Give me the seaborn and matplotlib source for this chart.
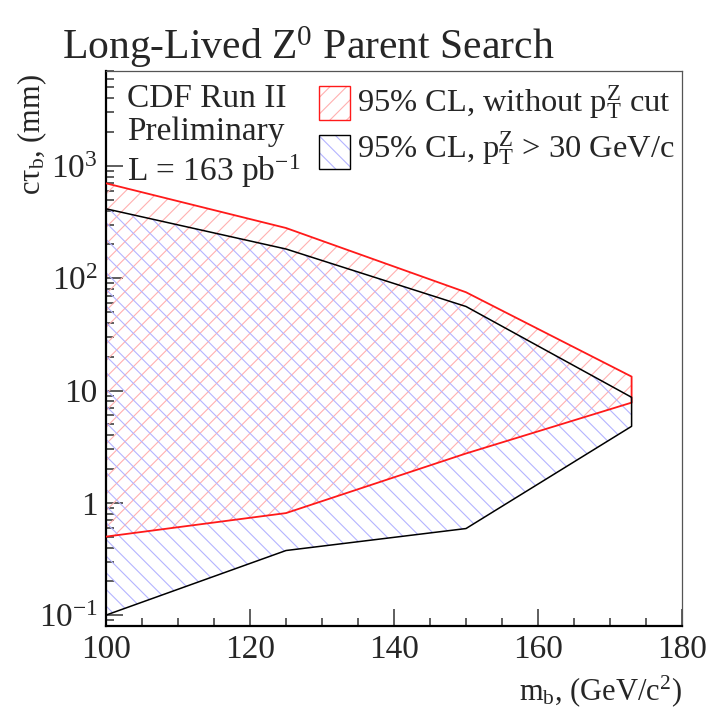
import matplotlib
matplotlib.use("Agg")
import matplotlib.pyplot as plt
from matplotlib.patches import Rectangle
from matplotlib.ticker import MultipleLocator, LogLocator, NullFormatter
import numpy as np
import pandas as pd
import seaborn as sns

# Excluded regions in the (m_b, c tau_b) plane, 95% CL
mass = [100, 125, 150, 173]
nocut_upper = [700, 280, 75, 13.3]
nocut_lower = [0.50, 0.81, 2.75, 7.8]
ptcut_upper = [415, 182, 56, 8.7]
ptcut_lower = [0.10, 0.376, 0.59, 4.8]

x_ticks = [100, 120, 140, 160, 180]
y_ticks = [0.1, 1, 10, 100, 1000]
y_tick_labels = ["10$^{-1}$", "1", "10", "10$^{2}$", "10$^{3}$"]

legend_labels = ["95% CL, without p$_{T}^{Z}$ cut",
                 "95% CL, p$_{T}^{Z}$ > 30 GeV/c"]

sns.set_style("ticks")
plt.rcParams["font.family"] = ["Liberation Serif", "DejaVu Serif"]
plt.rcParams["mathtext.fontset"] = "custom"
plt.rcParams["mathtext.rm"] = "Liberation Serif"
plt.rcParams["mathtext.it"] = "Liberation Serif"
plt.rcParams["mathtext.default"] = "regular"
plt.rcParams["hatch.linewidth"] = 0.8

W, H = 712, 719
fig = plt.figure(figsize=(W / 100, H / 100), dpi=100)
ax = fig.add_axes([106 / W, (H - 626) / H, 576 / W, 555 / H])
ax.set_yscale("log")


def band(upper, lower):
    xs = list(mass) + list(mass[::-1])
    ys = list(upper) + list(lower[::-1])
    return pd.DataFrame({"m": xs, "ctau": ys})


nocut = band(nocut_upper, nocut_lower)
ptcut = band(ptcut_upper, ptcut_lower)

# hatched fills
ax.fill(nocut["m"], nocut["ctau"], facecolor="none", edgecolor="#ffb0b0",
        hatch="//", lw=0, zorder=1)
ax.fill(ptcut["m"], ptcut["ctau"], facecolor="none", edgecolor="#b4b4ff",
        hatch="\\\\", lw=0, zorder=1)

# contour lines
sns.lineplot(data=nocut, x="m", y="ctau", sort=False, estimator=None,
             color="#ff1a1a", lw=1.3, ax=ax, zorder=3)
sns.lineplot(data=ptcut, x="m", y="ctau", sort=False, estimator=None,
             color="black", lw=1.1, ax=ax, zorder=3)

ax.set_xlim(100, 180)
ax.set_ylim(0.08, 7000)
ax.set_xlabel("")
ax.set_ylabel("")

ax.set_xticks(x_ticks)
ax.set_xticklabels([str(v) for v in x_ticks])
ax.xaxis.set_minor_locator(MultipleLocator(5))
ax.set_yticks(y_ticks)
ax.set_yticklabels(y_tick_labels)
ax.yaxis.set_minor_locator(LogLocator(base=10, subs=np.arange(2, 10)))
ax.yaxis.set_minor_formatter(NullFormatter())

ax.tick_params(which="both", direction="in", top=False, right=False,
               color="#333333", width=1.1, labelsize=24)
ax.tick_params(which="major", length=12, pad=6)
ax.tick_params(which="minor", length=6)

for s in ["left", "bottom"]:
    ax.spines[s].set_linewidth(1.6)
    ax.spines[s].set_color("black")
for s in ["top", "right"]:
    ax.spines[s].set_linewidth(0.9)
    ax.spines[s].set_color("#555555")


def fx(px):
    return px / W


def fy(py):
    return 1 - py / H


fig.text(fx(62), fy(59), "Long-Lived Z$^{0}$ Parent Search", fontsize=30,
         va="baseline", ha="left")
fig.text(fx(32), fy(74), "cτ$_{b}$, (mm)", fontsize=22, rotation=90,
         ha="center", va="top")
fig.text(fx(682), fy(700), "m$_{b}$, (GeV/c$^{2}$)", fontsize=22,
         ha="right", va="baseline")

fig.text(fx(127), fy(107), "CDF Run II", fontsize=24, va="baseline")
fig.text(fx(127), fy(140), "Preliminary", fontsize=24, va="baseline")
fig.text(fx(127), fy(181), "L = 163 pb$^{-1}$", fontsize=24, va="baseline")

# legend entries
boxes = [(86, "#ffb0b0", "//", "#ff1a1a"), (135, "#b4b4ff", "\\\\", "black")]
baselines = [112, 158]
for (top, hc, hatch, ec), base, lab in zip(boxes, baselines, legend_labels):
    fig.patches.append(Rectangle((fx(319), fy(top + 34)), 31 / W, 34 / H,
                                 transform=fig.transFigure, facecolor="none",
                                 edgecolor=hc, hatch=hatch, lw=0))
    fig.patches.append(Rectangle((fx(319), fy(top + 34)), 31 / W, 34 / H,
                                 transform=fig.transFigure, facecolor="none",
                                 edgecolor=ec, lw=1.0))
    fig.text(fx(357), fy(base), lab, fontsize=23.4, va="baseline")

fig.savefig("out.png", dpi=100)
